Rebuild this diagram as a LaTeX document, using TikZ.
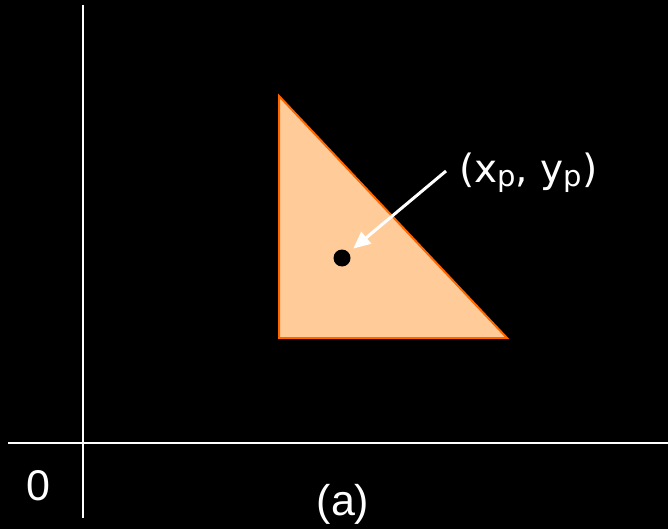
\documentclass[tikz,border=0pt]{standalone}
\usepackage{fontspec}
\setmainfont{Liberation Sans}
\newfontfamily\labfont{DejaVu Sans}
\usetikzlibrary{arrows.meta}
\newcommand{\subp}{\raisebox{-3pt}{\fontsize{29}{34}\selectfont p}}
\begin{document}
\begin{tikzpicture}[x=1pt,y=-1pt,
  axis/.style={draw=white,line width=2pt},
  tri/.style={draw={rgb,255:red,255;green,102;blue,0},fill={rgb,255:red,255;green,204;blue,153},line width=2pt,line join=miter},
  pointer/.style={draw=white,line width=3pt,-{Triangle[length=17pt,width=15pt]}},
  big/.style={text=white,font=\fontsize{43}{50}\selectfont,inner sep=0pt}]
\fill[black] (0,0) rectangle (668,529);
\useasboundingbox (0,0) rectangle (668,529);
\coordinate (ytop) at (83,5);
\coordinate (ybot) at (83,518);
\coordinate (xl) at (8,443);
\coordinate (xr) at (668,443);
\draw[axis] (ytop) -- (ybot);
\draw[axis] (xl) -- (xr);
\coordinate (A) at (279,96);
\coordinate (B) at (279,338);
\coordinate (C) at (507,338);
\path[tri] (A) -- (B) -- (C) -- cycle;
\node[circle,fill=black,minimum size=17pt,inner sep=0pt] (P) at (342,258) {};
\node[text=white,font=\labfont\fontsize{39}{46}\selectfont,inner sep=0pt,anchor=base west] (L) at (459,183) {(x\subp, y\subp)};
\coordinate (s) at (446,171);
\draw[pointer,shorten >=6pt] (s) -- (P);
\node[big,anchor=base] (zero) at (38,500) {0};
\node[big,anchor=base] (a) at (343,515) {(a)};
\end{tikzpicture}
\end{document}
